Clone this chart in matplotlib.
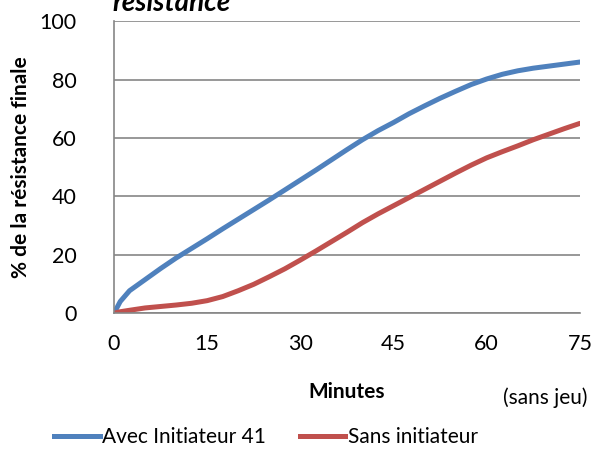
import matplotlib

matplotlib.use("Agg")
import matplotlib.pyplot as plt
from matplotlib.lines import Line2D

# values (minutes, % of final strength)
minutes = [0, 1, 2.5, 5, 7.5, 10, 12.5, 15, 17.5, 20, 22.5, 25, 27.5, 30, 32.5, 35,
           37.5, 40, 42.5, 45, 47.5, 50, 52.5, 55, 57.5, 60, 62.5, 65, 67.5, 70, 72.5, 75]
avec_41 = [0, 4, 7.7, 11.5, 15.3, 18.9, 22.2, 25.5, 28.9, 32.2, 35.5, 38.8, 42.2, 45.6,
           49, 52.5, 56, 59.4, 62.5, 65.3, 68.3, 71, 73.6, 76, 78.3, 80.2, 81.8, 83,
           83.9, 84.6, 85.3, 86]
sans_init = [0, 0.5, 1.0, 1.8, 2.3, 2.8, 3.4, 4.3, 5.7, 7.7, 9.9, 12.5, 15.2, 18.2,
             21.3, 24.5, 27.7, 31, 34, 36.8, 39.6, 42.4, 45.2, 48, 50.7, 53.2, 55.3,
             57.3, 59.4, 61.3, 63.2, 65]

x_ticks = [0, 15, 30, 45, 60, 75]
y_ticks = [0, 20, 40, 60, 80, 100]

blue, red, grid = "#4F81BD", "#C0504D", "#868686"
plt.rcParams["font.family"] = ["Lato", "DejaVu Sans"]

fig = plt.figure(figsize=(6.13, 4.5), dpi=100)
ax = fig.add_axes([0.186, 0.304, 0.760, 0.649])

ax.plot(minutes, avec_41, color=blue, lw=3.6, solid_capstyle="round")
ax.plot(minutes, sans_init, color=red, lw=3.6, solid_capstyle="round")

ax.set_xlim(0, 75)
ax.set_ylim(0, 100)
ax.set_xticks(x_ticks)
ax.set_yticks(y_ticks)
ax.tick_params(length=0, labelsize=15.5)
ax.tick_params(axis="y", pad=27)
ax.tick_params(axis="x", pad=15)
ax.grid(axis="y", color=grid, lw=1.2)
ax.set_axisbelow(True)
for side in ("top", "right"):
    ax.spines[side].set_visible(False)
for side in ("left", "bottom"):
    ax.spines[side].set_color(grid)
    ax.spines[side].set_linewidth(1.2)

ax.set_xlabel("Minutes", fontsize=15, fontweight="bold", labelpad=20)
ax.set_ylabel("% de la résistance finale", fontsize=15, fontweight="bold", labelpad=6)

fig.text(172 / 613, 1 - 11 / 450, "résistance", fontsize=20, fontweight="bold",
         style="italic", ha="center", va="baseline")
fig.text(545 / 613, 1 - 398 / 450, "(sans jeu)", fontsize=15, ha="center", va="center")

handles = [Line2D([], [], color=blue, lw=3.6), Line2D([], [], color=red, lw=3.6)]
fig.legend(handles, ["Avec Initiateur 41", "Sans initiateur"], loc="center",
           bbox_to_anchor=(266 / 613, 1 - 437 / 450), ncol=2, frameon=False, fontsize=15,
           handlelength=2.2, handletextpad=0.1, columnspacing=1.6,
           borderpad=0, borderaxespad=0)

fig.savefig("out.png", dpi=100)
